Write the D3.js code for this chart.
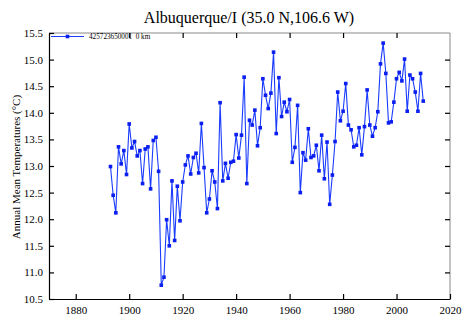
<!DOCTYPE html>
<html>
<head>
<meta charset="utf-8">
<script src="https://cdn.jsdelivr.net/npm/d3@7"></script>
<style>
  html, body { margin: 0; padding: 0; background: #fff; }
  svg { display: block; }
  text { font-family: "Liberation Serif", "Times New Roman", serif; fill: #000; }
</style>
</head>
<body>
<svg id="chart" width="468" height="329"></svg>
<script>
// Annual mean temperatures, Albuquerque station record
const years = d3.range(1893, 2011);
const temps = [
  12.99, 12.45, 12.12, 13.36, 13.04, 13.29, 12.84, 13.79, 13.34, 13.46, // 1893-1902
  13.19, 13.29, 12.67, 13.32, 13.36, 12.57, 13.48, 13.54, 12.90, 10.76, // 1903-1912
  10.91, 11.99, 11.50, 12.72, 11.60, 12.62, 11.97, 12.70, 13.02, 13.19, // 1913-1922
  12.85, 13.16, 13.24, 12.87, 13.80, 12.97, 12.12, 12.38, 12.91, 12.70, // 1923-1932
  12.20, 14.19, 12.72, 13.05, 12.77, 13.07, 13.09, 13.59, 13.15, 13.58, // 1933-1942
  14.67, 12.67, 13.86, 13.77, 14.05, 13.38, 13.72, 14.64, 14.33, 14.08, // 1943-1952
  14.37, 15.14, 13.61, 14.66, 13.93, 14.20, 14.02, 14.25, 13.07, 13.35, // 1953-1962
  14.14, 12.50, 13.25, 13.11, 13.70, 13.16, 13.19, 13.39, 12.91, 13.58, // 1963-1972
  12.76, 13.45, 12.28, 12.83, 13.46, 14.39, 13.85, 14.03, 14.55, 13.77, // 1973-1982
  13.68, 13.36, 13.39, 13.72, 13.21, 13.74, 14.43, 13.77, 13.56, 13.72, // 1983-1992
  14.02, 14.92, 15.31, 14.74, 13.81, 13.83, 14.20, 14.64, 14.76, 14.60, // 1993-2002
  15.01, 14.03, 14.71, 14.64, 14.39, 14.03, 14.74, 14.22                // 2003-2010
];
const xTicks = [1880, 1900, 1920, 1940, 1960, 1980, 2000, 2020];
const yTicks = [10.5, 11.0, 11.5, 12.0, 12.5, 13.0, 13.5, 14.0, 14.5, 15.0, 15.5];
const titleText = "Albuquerque/I (35.0 N,106.6 W)";
const yLabel = "Annual Mean Temperatures (\u00B0C)";
const seriesName = "425723650001  0 km";

const series = years.map((yr, i) => ({ year: yr, t: temps[i] }));

const svg = d3.select("#chart");
const plotL = 49, plotR = 450, plotT = 33, plotB = 299;
const serif = "'Liberation Serif', 'Times New Roman', serif";

const x = d3.scaleLinear().domain([1870, 2020]).range([plotL, plotR]);
const y = d3.scaleLinear().domain([10.5, 15.5]).range([plotB, plotT]);

// frame: top and right edges drawn lighter
svg.append("line").attr("x1", plotL).attr("x2", plotR).attr("y1", plotT).attr("y2", plotT)
  .attr("stroke", "#888").attr("stroke-width", 1);
svg.append("line").attr("x1", plotR).attr("x2", plotR).attr("y1", plotT).attr("y2", plotB)
  .attr("stroke", "#888").attr("stroke-width", 1);

// axes with inward ticks
const fmtY = d3.format(".1f");
const gB = svg.append("g").attr("transform", `translate(0,${plotB})`)
  .call(d3.axisBottom(x).tickValues(xTicks).tickFormat(d3.format("d"))
    .tickSizeInner(-5).tickSizeOuter(0).tickPadding(7));
const gL = svg.append("g").attr("transform", `translate(${plotL},0)`)
  .call(d3.axisLeft(y).tickValues(yTicks).tickFormat(fmtY)
    .tickSizeInner(-5).tickSizeOuter(0).tickPadding(6));
const gT = svg.append("g").attr("transform", `translate(0,${plotT})`)
  .call(d3.axisTop(x).tickValues(xTicks.slice(1, -1)).tickFormat("")
    .tickSizeInner(-5).tickSizeOuter(0));
const gR = svg.append("g").attr("transform", `translate(${plotR},0)`)
  .call(d3.axisRight(y).tickValues(yTicks.slice(1, -1)).tickFormat("")
    .tickSizeInner(-5).tickSizeOuter(0));

[gB, gL].forEach(g => {
  g.attr("font-family", null);
  g.select(".domain").attr("stroke", "#000").attr("stroke-width", 1.2);
  g.selectAll(".tick line").attr("stroke", "#000").attr("stroke-width", 1.2);
  g.selectAll("text").style("font-family", serif).style("font-size", "11px").attr("fill", "#222");
});
[gT, gR].forEach(g => {
  g.select(".domain").remove();
  g.selectAll(".tick line").attr("stroke", "#000").attr("stroke-width", 1.2);
});

// data line and markers
const line = d3.line().x(d => x(d.year)).y(d => y(d.t));
svg.append("path").datum(series)
  .attr("d", line).attr("fill", "none")
  .attr("stroke", "#1a3cff").attr("stroke-width", 1.1);
const ms = 3.6;
svg.append("g").selectAll("rect").data(series).join("rect")
  .attr("x", d => x(d.year) - ms / 2).attr("y", d => y(d.t) - ms / 2)
  .attr("width", ms).attr("height", ms).attr("fill", "#0a1ef0");

// legend
const legY = 36.5;
svg.append("line").attr("x1", 51).attr("x2", 84).attr("y1", legY).attr("y2", legY)
  .attr("stroke", "#1a3cff").attr("stroke-width", 1.1);
svg.append("rect").attr("x", 67.5 - ms / 2).attr("y", legY - ms / 2)
  .attr("width", ms).attr("height", ms).attr("fill", "#0a1ef0");
svg.append("text").attr("x", 89).attr("y", legY + 2.4)
  .style("font-family", serif).style("font-size", "7.2px").style("white-space", "pre")
  .attr("fill", "#333").text(seriesName);

// title and axis label
svg.append("text").attr("x", 249).attr("y", 23).attr("text-anchor", "middle")
  .style("font-family", serif).style("font-size", "16px").text(titleText);
svg.append("text").attr("transform", `translate(20,167) rotate(-90)`)
  .attr("text-anchor", "middle").style("font-family", serif).style("font-size", "11px")
  .attr("fill", "#222").text(yLabel);
</script>
</body>
</html>
